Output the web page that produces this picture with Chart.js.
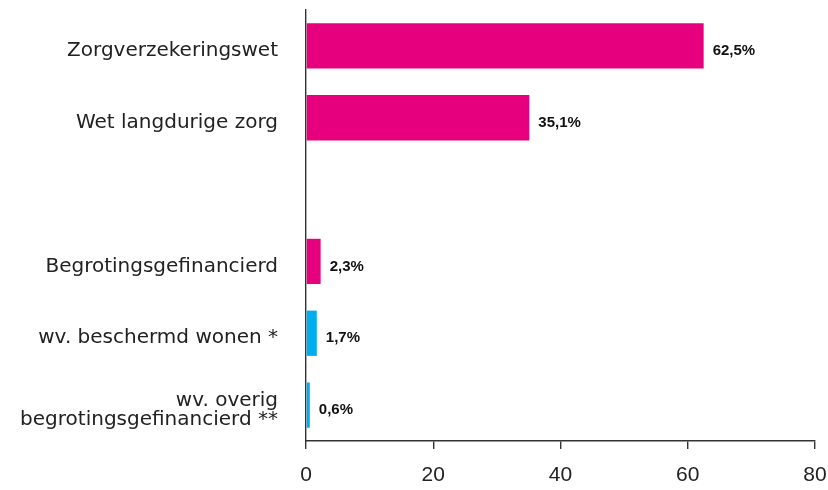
<!DOCTYPE html>
<html>
<head>
<meta charset="utf-8">
<script src="https://cdn.jsdelivr.net/npm/chart.js@4.4.1/dist/chart.umd.min.js"></script>
<style>
  html, body { margin: 0; padding: 0; background: #fff; }
  #wrap { width: 828px; height: 490px; position: relative; }
</style>
</head>
<body>
<div id="wrap"><canvas id="myChart"></canvas></div>
<script>
const categories = [
  'Zorgverzekeringswet',
  'Wet langdurige zorg',
  '',
  'Begrotingsgefinancierd',
  'wv. beschermd wonen *',
  ['wv. overig', 'begrotingsgefinancierd **']
];
const values = [62.5, 35.1, null, 2.3, 1.7, 0.6];
const valueLabels = ['62,5%', '35,1%', '', '2,3%', '1,7%', '0,6%'];
const barColors = ['#E6007E', '#E6007E', '#E6007E', '#E6007E', '#00AEEF', '#00AEEF'];
const xTicks = [0, 20, 40, 60, 80];

// draws the percentage next to each bar end
const valueLabelPlugin = {
  id: 'valueLabels',
  afterDatasetsDraw(chart) {
    const ctx = chart.ctx;
    const meta = chart.getDatasetMeta(0);
    ctx.save();
    ctx.font = 'bold 15px "Liberation Sans", Arial, sans-serif';
    ctx.fillStyle = '#111';
    ctx.textBaseline = 'middle';
    ctx.textAlign = 'left';
    meta.data.forEach((bar, i) => {
      if (values[i] === null) return;
      ctx.fillText(valueLabels[i], bar.x + 9, bar.y + 5);
    });
    ctx.restore();
  }
};

const ctx = document.getElementById('myChart');

const chartConfig = {
  type: 'bar',
  data: {
    labels: categories,
    datasets: [{
      data: values,
      backgroundColor: barColors,
      borderWidth: 0,
      categoryPercentage: 0.63,
      barPercentage: 1.0
    }]
  },
  options: {
    indexAxis: 'y',
    animation: false,
    responsive: true,
    maintainAspectRatio: false,
    layout: {
      padding: { top: 10, right: 0, bottom: 0, left: 0 }
    },
    plugins: {
      legend: { display: false },
      tooltip: { enabled: false }
    },
    scales: {
      x: {
        min: 0,
        max: 80,
        afterBuildTicks: (scale) => {
          scale.ticks = xTicks.map(v => ({ value: v }));
        },
        afterFit: (scale) => {
          scale.height = 49;
          scale.paddingLeft = 0;
          scale.paddingRight = 13;
          scale.paddingTop = 0;
          scale.paddingBottom = 0;
        },
        grid: {
          display: true,
          drawOnChartArea: false,
          drawTicks: true,
          tickLength: 8,
          color: '#333',
          lineWidth: 1.4
        },
        border: { display: true, color: '#333', width: 1.4 },
        ticks: {
          color: '#222',
          padding: 14,
          font: { family: '"Liberation Sans", Arial, sans-serif', size: 21 }
        }
      },
      y: {
        afterFit: (scale) => {
          scale.width = 306;
          scale.paddingTop = 0;
          scale.paddingBottom = 0;
        },
        grid: { display: false, drawTicks: false },
        border: { display: true, color: '#333', width: 1.4 },
        ticks: {
          color: '#222',
          padding: 28,
          labelOffset: 5,
          autoSkip: false,
          font: { family: '"DejaVu Sans", sans-serif', size: 20, lineHeight: 0.95 }
        }
      }
    }
  },
  plugins: [valueLabelPlugin]
};

const myChart = new Chart(ctx, chartConfig);
</script>
</body>
</html>
